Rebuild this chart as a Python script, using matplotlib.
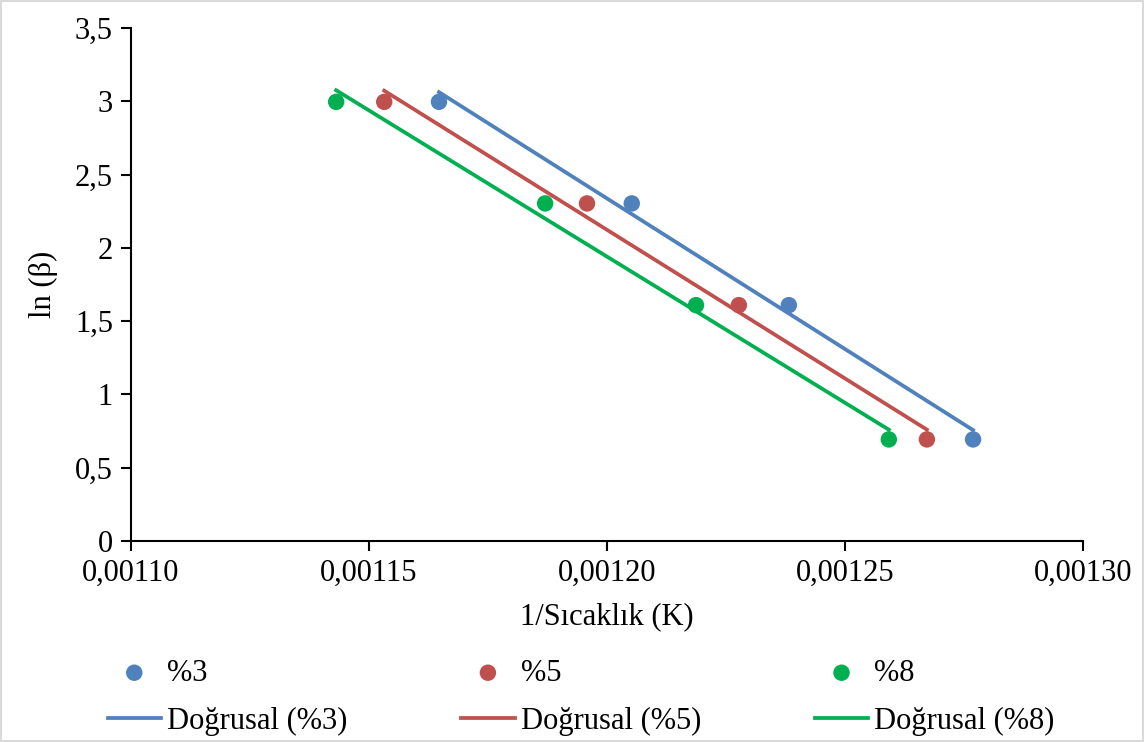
import numpy as np
import matplotlib.pyplot as plt
from matplotlib.ticker import FuncFormatter

plt.rcParams['font.family'] = ['Liberation Serif', 'DejaVu Serif']

# ln(beta) for heating rates 20, 10, 5, 2
ln_beta = [2.996, 2.303, 1.609, 0.693]

x_3 = [0.0011647, 0.0012052, 0.0012382, 0.0012769]
x_5 = [0.0011532, 0.0011958, 0.0012277, 0.0012672]
x_8 = [0.0011431, 0.0011870, 0.0012187, 0.0012592]

labels = ['%3', '%5', '%8']
colors = ['#4F81BD', '#C0504D', '#00B050']

fig = plt.figure(figsize=(11.44, 7.42), dpi=100)
fig.patch.set_edgecolor('#D9D9D9')
fig.patch.set_linewidth(1.5)
ax = fig.add_axes([0.1145, 0.2709, 0.8322, 0.6914])

handles = []
for xs, lab, c in zip([x_3, x_5, x_8], labels, colors):
    xs = np.array(xs)
    ys = np.array(ln_beta)
    sc = ax.scatter(xs, ys, s=140, color=c, zorder=3, label=lab, edgecolors='none')
    m, b = np.polyfit(xs, ys, 1)
    xl = np.array([xs.min(), xs.max()])
    ln, = ax.plot(xl, m * xl + b, color=c, lw=2.7, label='Doğrusal (' + lab + ')')
    handles += [sc, ln]

ax.set_xlim(0.00110, 0.00130)
ax.set_ylim(0, 3.5)
ax.set_xticks([0.00110, 0.00115, 0.00120, 0.00125, 0.00130])
ax.set_yticks([0, 0.5, 1, 1.5, 2, 2.5, 3, 3.5])
ax.xaxis.set_major_formatter(FuncFormatter(lambda v, p: f'{v:.5f}'.replace('.', ',')))
ax.yaxis.set_major_formatter(FuncFormatter(lambda v, p: f'{v:g}'.replace('.', ',')))

for s in ['top', 'right']:
    ax.spines[s].set_visible(False)
for s in ['left', 'bottom']:
    ax.spines[s].set_linewidth(1.5)
    ax.spines[s].set_color('black')
ax.tick_params(direction='out', length=7, width=1.5, labelsize=22, pad=6)

ax.set_xlabel('1/Sıcaklık (K)', fontsize=22, labelpad=10)
ax.set_ylabel('ln (β)', fontsize=22, labelpad=12)

fig.legend(handles=handles, loc='lower left', bbox_to_anchor=(0.094, 0.008), ncol=3,
           frameon=False, fontsize=22, handlelength=1.75, handletextpad=0.2,
           columnspacing=3.72, labelspacing=0.63, borderaxespad=0.0, borderpad=0.0)

fig.savefig('out.png', dpi=100)
